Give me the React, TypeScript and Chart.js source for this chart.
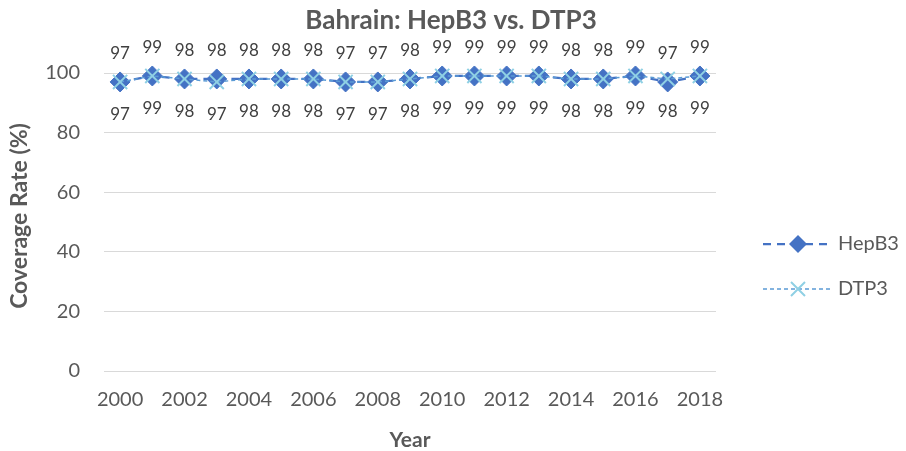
import React, { useEffect, useRef } from "react";
import { Chart, registerables } from "chart.js";

Chart.register(...registerables);

const years = ["2000","2001","2002","2003","2004","2005","2006","2007","2008","2009","2010","2011","2012","2013","2014","2015","2016","2017","2018"];
const hepB3 = [97,99,98,98,98,98,98,97,97,98,99,99,99,99,98,98,99,97,99];
const dtp3 = [97,99,98,97,98,98,98,97,97,98,99,99,99,99,98,98,99,98,99];
const yTicks = [0, 20, 40, 60, 80, 100];

const FONT = "Lato, 'Open Sans', sans-serif";
const TXT = "#595959";

const textPlugin = {
  id: "customText",
  afterDraw(chart: any) {
    const ctx = chart.ctx;
    ctx.save();
    // data labels
    ctx.font = `17px ${FONT}`;
    ctx.fillStyle = "#404040";
    ctx.textAlign = "center";
    ctx.textBaseline = "middle";
    const m0 = chart.getDatasetMeta(0);
    m0.data.forEach((p: any, i: number) => {
      ctx.fillText(String(hepB3[i]), p.x, p.y - 28);
    });
    const m1 = chart.getDatasetMeta(1);
    m1.data.forEach((p: any, i: number) => {
      ctx.fillText(String(dtp3[i]), p.x, p.y + 33);
    });
    // title
    ctx.fillStyle = TXT;
    ctx.font = `bold 26px ${FONT}`;
    ctx.fillText("Bahrain: HepB3 vs. DTP3", 443, 13);
    // x title
    ctx.font = `bold 21px ${FONT}`;
    const ca = chart.chartArea;
    ctx.fillText("Year", (ca.left + ca.right) / 2, 432);
    // y title
    ctx.save();
    ctx.translate(12, (ca.top + ca.bottom) / 2 - 6);
    ctx.rotate(-Math.PI / 2);
    ctx.font = `bold 23px ${FONT}`;
    ctx.fillText("Coverage Rate (%)", 0, 0);
    ctx.restore();
    // legend
    ctx.textAlign = "left";
    ctx.font = `20px ${FONT}`;
    // HepB3
    ctx.strokeStyle = "#4472C4";
    ctx.lineWidth = 2.25;
    ctx.setLineDash([8, 6]);
    ctx.beginPath();
    ctx.moveTo(755, 236);
    ctx.lineTo(820, 236);
    ctx.stroke();
    ctx.setLineDash([]);
    ctx.fillStyle = "#4472C4";
    ctx.beginPath();
    ctx.moveTo(790, 227);
    ctx.lineTo(799, 236);
    ctx.lineTo(790, 245);
    ctx.lineTo(781, 236);
    ctx.closePath();
    ctx.fill();
    ctx.fillStyle = TXT;
    ctx.fillText("HepB3", 830, 236);
    // DTP3
    ctx.strokeStyle = "#5B9BD5";
    ctx.lineWidth = 1.5;
    ctx.setLineDash([4, 3]);
    ctx.beginPath();
    ctx.moveTo(755, 281);
    ctx.lineTo(825, 281);
    ctx.stroke();
    ctx.setLineDash([]);
    ctx.strokeStyle = "#8FD0E4";
    ctx.lineWidth = 2;
    ctx.beginPath();
    ctx.moveTo(783, 274);
    ctx.lineTo(797, 288);
    ctx.moveTo(797, 274);
    ctx.lineTo(783, 288);
    ctx.stroke();
    ctx.fillStyle = TXT;
    ctx.fillText("DTP3", 830, 281);
    ctx.restore();
  },
};

export default function App() {
  const ref = useRef<HTMLCanvasElement>(null);
  useEffect(() => {
    if (!ref.current) return;
    const chart = new Chart(ref.current, {
      type: "line",
      data: {
        labels: years,
        datasets: [
          {
            label: "HepB3",
            data: hepB3,
            borderColor: "#4472C4",
            backgroundColor: "#4472C4",
            borderWidth: 2.25,
            borderDash: [8, 6],
            pointStyle: "rectRot",
            pointRadius: 10,
            pointBackgroundColor: "#4472C4",
            pointBorderColor: "#4472C4",
            pointBorderWidth: 1,
            tension: 0,
            clip: false,
            order: 2,
          },
          {
            label: "DTP3",
            data: dtp3,
            borderColor: "#5B9BD5",
            backgroundColor: "#8FD0E4",
            borderWidth: 1.5,
            borderDash: [4, 3],
            pointStyle: "crossRot",
            pointRadius: 10,
            pointBorderColor: "#8FD0E4",
            pointBorderWidth: 2,
            tension: 0,
            clip: false,
            order: 1,
          },
        ],
      },
      options: {
        animation: false,
        responsive: false,
        layout: { padding: { top: 65, right: 182, left: 0, bottom: 0 } },
        plugins: { legend: { display: false }, tooltip: { enabled: false }, title: { display: false } },
        scales: {
          x: {
            offset: true,
            grid: { display: false, drawTicks: false },
            border: { display: false },
            ticks: {
              autoSkip: false,
              maxRotation: 0,
              padding: 17,
              color: TXT,
              font: { family: FONT, size: 20 },
              callback: (_v: any, i: number) => (i % 2 === 0 ? years[i] : ""),
            },
            afterFit: (s: any) => { s.height = 80; },
          },
          y: {
            min: 0,
            max: 100,
            afterBuildTicks: (s: any) => { s.ticks = yTicks.map((v) => ({ value: v })); },
            grid: { color: "#D9D9D9", lineWidth: 1, drawTicks: false },
            border: { display: false },
            ticks: {
              padding: 24,
              color: TXT,
              font: { family: FONT, size: 20 },
            },
            afterFit: (s: any) => { s.width = 96; },
          },
        },
      },
      plugins: [textPlugin],
    });
    return () => chart.destroy();
  }, []);
  return <canvas ref={ref} width={890} height={443} style={{ display: "block" }} />;
}
